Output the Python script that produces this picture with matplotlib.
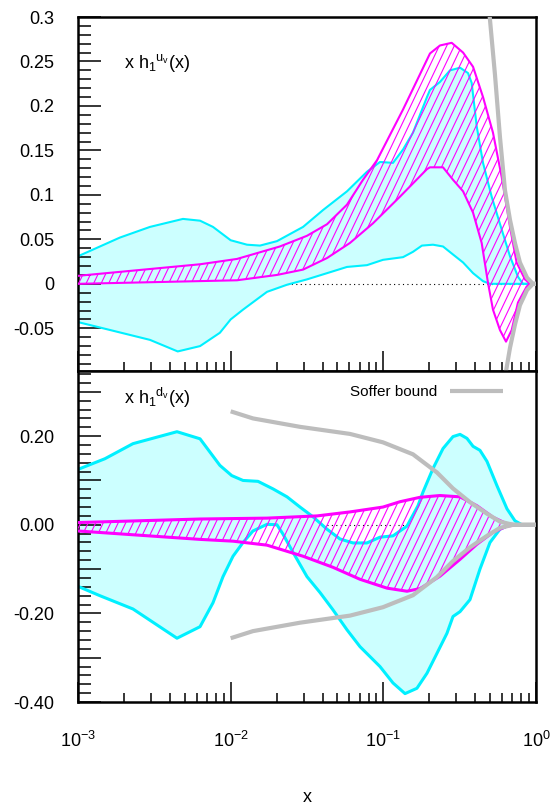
import numpy as np
import matplotlib
matplotlib.use("Agg")
import matplotlib.pyplot as plt
from matplotlib.ticker import MultipleLocator, FuncFormatter, LogLocator
from matplotlib.collections import LineCollection

plt.rcParams['font.family'] = ['Liberation Sans', 'DejaVu Sans']
plt.rcParams['mathtext.fontset'] = 'custom'
plt.rcParams['mathtext.rm'] = 'Liberation Sans'
plt.rcParams['mathtext.it'] = 'Liberation Sans'
plt.rcParams['mathtext.default'] = 'regular'

# ---- u valence (top panel) ----
uv_cyan_up_x = [0.001, 0.00188, 0.00296, 0.00487, 0.0063, 0.00766, 0.01, 0.0128, 0.01556, 0.0201,
                0.0298, 0.0403, 0.0578, 0.0781, 0.0951, 0.1157, 0.1346, 0.1564, 0.1932, 0.2021,
                0.235, 0.2733, 0.318, 0.3585, 0.379, 0.409, 0.4498, 0.5124, 0.5962, 0.6755,
                0.762, 0.822, 0.914]
uv_cyan_up_y = [0.031, 0.052, 0.064, 0.073, 0.071, 0.064, 0.049, 0.044, 0.043, 0.048,
                0.064, 0.083, 0.104, 0.126, 0.137, 0.136, 0.151, 0.170, 0.210, 0.218,
                0.227, 0.240, 0.243, 0.237, 0.226, 0.177, 0.136, 0.098, 0.061, 0.031,
                0.008, 0.0, 0.0]
uv_cyan_lo_x = [0.001, 0.00296, 0.0045, 0.0063, 0.0085, 0.01, 0.01205, 0.0173, 0.0234, 0.0316,
                0.04276, 0.0578, 0.0781, 0.0995, 0.1346, 0.1564, 0.179, 0.2115, 0.246, 0.286,
                0.333, 0.387, 0.4498, 0.4995, 0.914]
uv_cyan_lo_y = [-0.043, -0.063, -0.076, -0.070, -0.055, -0.040, -0.029, -0.009, -0.001, 0.005,
                0.012, 0.019, 0.021, 0.027, 0.030, 0.036, 0.043, 0.044, 0.042, 0.033,
                0.024, 0.012, 0.003, 0.0, 0.0]
uv_mag_up_x = [0.001, 0.0063, 0.011, 0.021, 0.0316, 0.04276, 0.0578, 0.0736, 0.0909, 0.1346,
               0.2021, 0.235, 0.2804, 0.333, 0.387, 0.4498, 0.5226, 0.5962, 0.6755, 0.7464,
               0.847, 0.914]
uv_mag_up_y = [0.009, 0.022, 0.028, 0.042, 0.054, 0.067, 0.089, 0.117, 0.139, 0.196,
               0.259, 0.268, 0.271, 0.260, 0.244, 0.210, 0.170, 0.120, 0.064, 0.024,
               0.005, 0.0]
uv_mag_lo_x = [0.001, 0.011, 0.0201, 0.0298, 0.04276, 0.0605, 0.0855, 0.1285, 0.1932, 0.2021,
               0.246, 0.286, 0.333, 0.387, 0.4407, 0.4849, 0.5226, 0.5808, 0.6362, 0.693,
               0.762, 0.869, 0.914]
uv_mag_lo_y = [0.0, 0.004, 0.010, 0.016, 0.029, 0.046, 0.068, 0.098, 0.129, 0.131,
               0.131, 0.117, 0.104, 0.080, 0.046, 0.001, -0.029, -0.052, -0.065, -0.052,
               -0.021, -0.003, 0.0]
uv_soffer_x = [0.45, 0.4995, 0.5387, 0.5808, 0.6266, 0.6755, 0.7278, 0.785, 0.873, 0.955, 1.0]
uv_soffer_b = [0.39, 0.297, 0.235, 0.165, 0.105, 0.072, 0.046, 0.024, 0.007, 0.0, 0.0]

# ---- d valence (bottom panel) ----
dv_cyan_up_x = [0.001, 0.0015, 0.00229, 0.00445, 0.0063, 0.0085, 0.01016, 0.01205, 0.0151, 0.01893,
                0.0234, 0.02845, 0.0346, 0.04276, 0.052, 0.0633, 0.0781, 0.0951, 0.1157, 0.1429,
                0.1687, 0.182, 0.2115, 0.246, 0.286, 0.318, 0.353, 0.387, 0.4295, 0.4775,
                0.5553, 0.6456, 0.7278, 0.809, 0.9]
dv_cyan_up_y = [0.125, 0.149, 0.183, 0.210, 0.194, 0.134, 0.111, 0.100, 0.098, 0.081,
                0.063, 0.040, 0.018, -0.010, -0.032, -0.041, -0.041, -0.028, -0.025, -0.003,
                0.043, 0.074, 0.127, 0.172, 0.199, 0.204, 0.195, 0.177, 0.168, 0.143,
                0.088, 0.036, 0.009, 0.0, 0.0]
dv_cyan_lo_x = [0.001, 0.00139, 0.00229, 0.00445, 0.0063, 0.00766, 0.00891, 0.01036, 0.01205, 0.014,
                0.0173, 0.0201, 0.022, 0.0256, 0.0316, 0.0385, 0.0468, 0.0578, 0.0703, 0.0951,
                0.1157, 0.1387, 0.166, 0.1932, 0.2246, 0.261, 0.286, 0.318, 0.3694, 0.4295,
                0.4995, 0.5808, 0.6755, 0.9]
dv_cyan_lo_y = [-0.139, -0.160, -0.190, -0.256, -0.230, -0.176, -0.117, -0.071, -0.040, -0.014,
                0.001, 0.0, -0.021, -0.062, -0.117, -0.153, -0.192, -0.237, -0.275, -0.320,
                -0.357, -0.381, -0.369, -0.335, -0.290, -0.245, -0.207, -0.196, -0.169, -0.100,
                -0.040, -0.010, 0.0, 0.0]
dv_mag_up_x = [0.001, 0.0063, 0.0173, 0.0368, 0.0605, 0.0995, 0.1285, 0.174, 0.235, 0.318,
               0.41, 0.5226, 0.6456, 0.75, 0.9]
dv_mag_up_y = [0.005, 0.013, 0.015, 0.020, 0.029, 0.040, 0.052, 0.062, 0.066, 0.063,
               0.043, 0.017, 0.002, 0.0, 0.0]
dv_mag_lo_x = [0.001, 0.0063, 0.01036, 0.0173, 0.0298, 0.0468, 0.0703, 0.1057, 0.1429, 0.174,
               0.235, 0.318, 0.41, 0.5226, 0.6456, 0.75, 0.9]
dv_mag_lo_y = [-0.014, -0.033, -0.037, -0.046, -0.071, -0.096, -0.123, -0.143, -0.150, -0.144,
               -0.116, -0.078, -0.044, -0.017, -0.003, 0.0, 0.0]
dv_soffer_x = [0.01, 0.014, 0.02845, 0.0605, 0.0995, 0.1564, 0.2246, 0.2857, 0.3694, 0.4775,
               0.5808, 0.708, 1.0]
dv_soffer_b = [0.256, 0.240, 0.221, 0.205, 0.186, 0.159, 0.118, 0.082, 0.051, 0.025,
               0.007, 0.0, 0.0]

CYAN_FILL = '#ccffff'
CYAN = '#00f0ff'
MAGENTA = '#ff00ff'
GRAY = '#bdbdbd'


def steep_hatch(ax, poly, spacing=7.5, slope=2.1):
    # diagonal lines (steeper than the built-in '/') clipped to the band
    W, H = ax.bbox.width, ax.bbox.height
    run = H / slope
    starts = np.arange(-run, W + spacing, spacing)
    segs = [[(s / W, 0), ((s + run) / W, 1)] for s in starts]
    lc = LineCollection(segs, transform=ax.transAxes, colors=MAGENTA, lw=0.8, zorder=3)
    lc.set_clip_path(poly)
    ax.add_collection(lc, autolim=False)


def draw_panel(ax, cux, cuy, clx, cly, mux, muy, mlx, mly, sx, sb, lw):
    ax.axhline(0, color='black', lw=0.8, ls=(0, (1, 3)), zorder=0.5)
    ax.fill(np.r_[cux, clx[::-1]], np.r_[cuy, cly[::-1]],
            facecolor=CYAN_FILL, edgecolor='none', zorder=1)
    ax.plot(cux, cuy, color=CYAN, lw=lw, zorder=2)
    ax.plot(clx, cly, color=CYAN, lw=lw, zorder=2)
    poly = ax.fill(np.r_[mux, mlx[::-1]], np.r_[muy, mly[::-1]],
                   facecolor='none', edgecolor='none', lw=0, zorder=3)[0]
    steep_hatch(ax, poly)
    ax.plot(mux, muy, color=MAGENTA, lw=lw, zorder=4)
    ax.plot(mlx, mly, color=MAGENTA, lw=lw, zorder=4)
    sb = np.asarray(sb)
    line, = ax.plot(sx, sb, color=GRAY, lw=3, zorder=5, solid_capstyle='butt')
    ax.plot(sx, -sb, color=GRAY, lw=3, zorder=5, solid_capstyle='butt')
    return line


fig = plt.figure(figsize=(5.54, 8.06), dpi=100)
ax1 = fig.add_axes([0.1408, 0.5397, 0.8267, 0.4392])
ax2 = fig.add_axes([0.1408, 0.1290, 0.8267, 0.4107], sharex=ax1)

ax1.set_xscale('log')
ax1.set_xlim(1e-3, 1)
ax1.set_ylim(-0.098, 0.3)
ax2.set_ylim(-0.40, 0.347)

draw_panel(ax1, uv_cyan_up_x, uv_cyan_up_y, uv_cyan_lo_x, uv_cyan_lo_y,
           uv_mag_up_x, uv_mag_up_y, uv_mag_lo_x, uv_mag_lo_y,
           uv_soffer_x, uv_soffer_b, 1.5)
soff = draw_panel(ax2, dv_cyan_up_x, dv_cyan_up_y, dv_cyan_lo_x, dv_cyan_lo_y,
                  dv_mag_up_x, dv_mag_up_y, dv_mag_lo_x, dv_mag_lo_y,
                  dv_soffer_x, dv_soffer_b, 2.2)

ax1.set_xlim(1e-3, 1)
ax1.set_ylim(-0.098, 0.3)
ax2.set_ylim(-0.40, 0.347)

ax1.yaxis.set_major_locator(MultipleLocator(0.05))
ax1.yaxis.set_minor_locator(MultipleLocator(0.01))
ax1.yaxis.set_major_formatter(FuncFormatter(lambda v, p: f'{round(v, 3) + 0.0:g}'))

ax2.yaxis.set_major_locator(MultipleLocator(0.1))
ax2.yaxis.set_minor_locator(MultipleLocator(0.02))
ax2.yaxis.set_major_formatter(FuncFormatter(
    lambda v, p: f'{round(v, 2) + 0.0:.2f}' if abs(round(v * 10)) % 2 == 0 else ''))

for ax in (ax1, ax2):
    ax.xaxis.set_major_locator(LogLocator(base=10, numticks=10))
    ax.xaxis.set_minor_locator(LogLocator(base=10, subs=np.arange(2, 10), numticks=10))
    ax.tick_params(which='both', direction='in', top=False, right=False, width=1.1)
    ax.tick_params(axis='y', which='major', length=16.5, pad=17, labelsize=13)
    ax.tick_params(axis='y', which='minor', length=9)
    ax.tick_params(axis='x', which='major', length=14.5, pad=21, labelsize=13)
    ax.tick_params(axis='x', which='minor', length=6.5)
    for s in ax.spines.values():
        s.set_linewidth(1.8)

ax1.tick_params(labelbottom=False)

ax1.text(0.1, 0.87, r'x h$_1$$^{u_v}$(x)', transform=ax1.transAxes,
         fontsize=13, va='center', ha='left')
ax2.text(0.1, 0.92, r'x h$_1$$^{d_v}$(x)', transform=ax2.transAxes,
         fontsize=13, va='center', ha='left')

ax2.legend([soff], ['Soffer bound'], loc='center right', bbox_to_anchor=(0.942, 0.936),
           frameon=False, markerfirst=False, handlelength=3.5, handletextpad=0.8,
           fontsize=11, borderaxespad=0)

ax2.set_xlabel('x', fontsize=13, labelpad=27)

fig.savefig('out.png', dpi=100)
